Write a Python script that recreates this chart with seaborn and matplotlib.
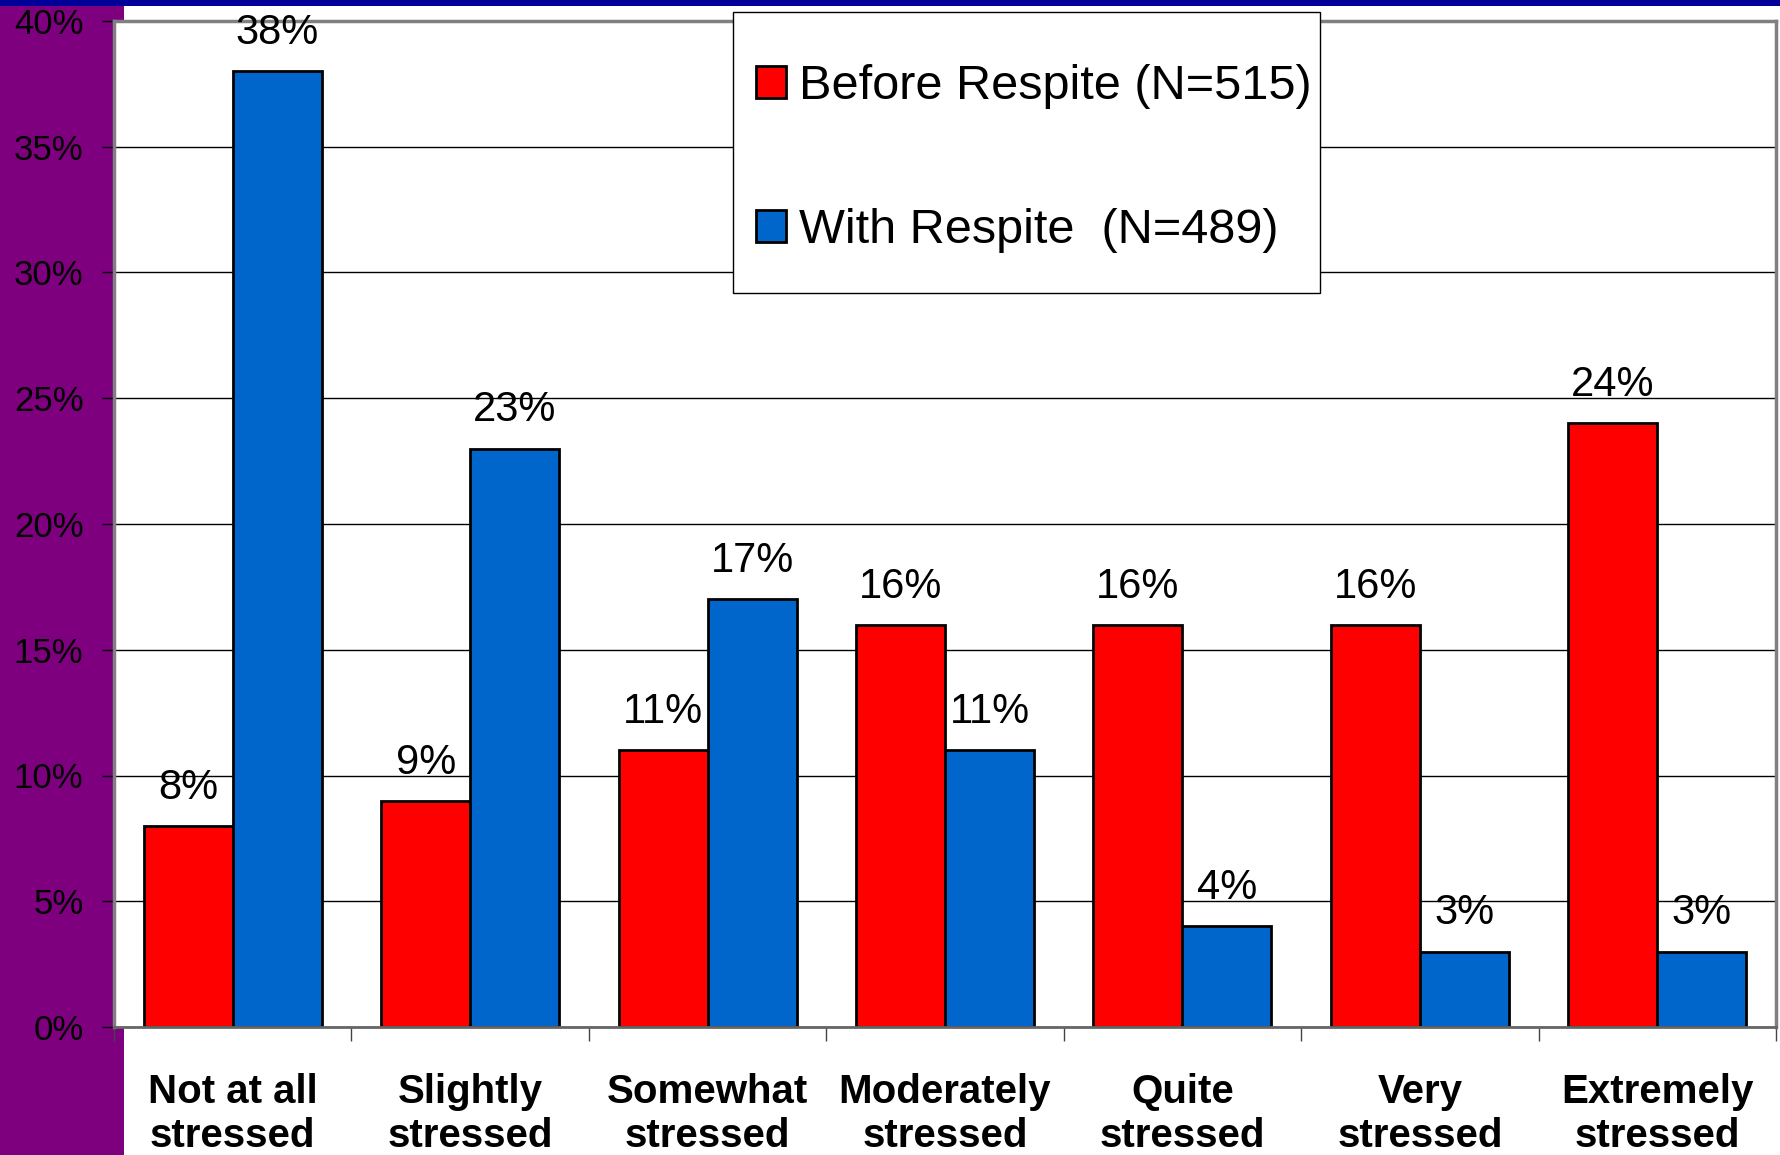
import matplotlib
matplotlib.use("Agg")
import matplotlib.pyplot as plt
from matplotlib.patches import Rectangle
import seaborn as sns
import pandas as pd

categories = ["Not at all\nstressed", "Slightly\nstressed", "Somewhat\nstressed",
              "Moderately\nstressed", "Quite\nstressed", "Very\nstressed",
              "Extremely\nstressed"]
before_respite = [8, 9, 11, 16, 16, 16, 24]
with_respite = [38, 23, 17, 11, 4, 3, 3]
series_names = ["Before Respite (N=515)", "With Respite  (N=489)"]
y_ticks = [0, 5, 10, 15, 20, 25, 30, 35, 40]
y_tick_labels = ["0%", "5%", "10%", "15%", "20%", "25%", "30%", "35%", "40%"]

df = pd.DataFrame({
    "category": categories * 2,
    "value": before_respite + with_respite,
    "series": [series_names[0]] * len(categories) + [series_names[1]] * len(categories),
})

sns.set_style("white")
plt.rcParams["font.family"] = ["Liberation Sans", "DejaVu Sans"]
plt.rcParams["text.color"] = "black"
plt.rcParams["xtick.color"] = "black"
plt.rcParams["ytick.color"] = "black"

W, H = 1780, 1155
fig = plt.figure(figsize=(W / 100, H / 100), dpi=100)
fig.patch.set_facecolor("white")

# background decorations (slide style)
fig.patches.append(Rectangle((0, 0), 124 / W, 1 - 6 / H, transform=fig.transFigure,
                             facecolor="#7F007F", edgecolor="none", zorder=-2))
fig.patches.append(Rectangle((0, 1 - 6 / H), 1, 6 / H, transform=fig.transFigure,
                             facecolor="#000099", edgecolor="none", zorder=-2))

ax = fig.add_axes([114 / W, 1 - 1027 / H, (1776 - 114) / W, (1027 - 21) / H])
ax.set_facecolor("white")

sns.barplot(data=df, x="category", y="value", hue="series", order=categories,
            hue_order=series_names, palette=["#FF0000", "#0066CC"],
            edgecolor="black", linewidth=2, width=0.75, gap=0, ax=ax,
            errorbar=None, saturation=1)

for cont in ax.containers:
    vals = [p.get_height() for p in cont.patches]
    ax.bar_label(cont, labels=[f"{int(round(v))}%" for v in vals], padding=13,
                 fontsize=30, color="black")

ax.set_ylim(0, 40)
ax.set_xlim(-0.5, len(categories) - 0.5)
ax.set_yticks(y_ticks)
ax.set_yticklabels(y_tick_labels, fontsize=25, color="black")
ax.tick_params(axis="y", length=9, width=1, direction="out", pad=13, color="black",
               left=True)
ax.set_xticks(range(len(categories)))
ax.set_xticklabels(categories, fontsize=29, fontweight="bold", linespacing=1.2,
                   color="black")
ax.tick_params(axis="x", which="major", length=0, pad=33)
ax.set_xticks([i - 0.5 for i in range(len(categories) + 1)], minor=True)
ax.tick_params(axis="x", which="minor", length=10, width=1, direction="out",
               color="#444444", bottom=True)
ax.set_xlabel("")
ax.set_ylabel("")

ax.yaxis.grid(True, color="black", linewidth=1)
ax.xaxis.grid(False)
ax.set_axisbelow(True)
for side in ["top", "right", "left"]:
    ax.spines[side].set_visible(True)
    ax.spines[side].set_color("#808080")
    ax.spines[side].set_linewidth(2.5)
ax.spines["bottom"].set_color("#666666")
ax.spines["bottom"].set_linewidth(2)

if ax.get_legend() is not None:
    ax.get_legend().remove()

# legend frame box
frame = Rectangle((733 / W, 1 - 293 / H), 587 / W, 281 / H, transform=fig.transFigure,
                  facecolor="white", edgecolor="black", linewidth=1, zorder=4,
                  clip_on=False)
ax.add_artist(frame)

leg = ax.legend(handles=list(ax.containers), labels=series_names, loc="upper left",
                bbox_to_anchor=(756 / W, 1 - 64 / H), bbox_transform=fig.transFigure,
                borderaxespad=0, fontsize=35, handlelength=0.62, handleheight=0.62,
                handletextpad=0.27, labelspacing=2.04, borderpad=0,
                frameon=False)
leg.set_zorder(5)

fig.savefig("out.png", dpi=100)
